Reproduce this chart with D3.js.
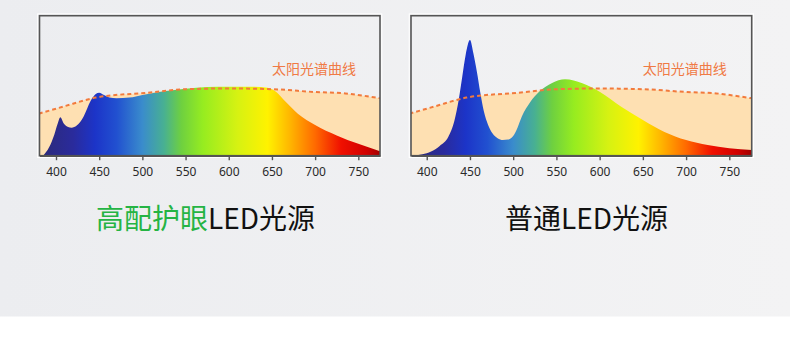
<!DOCTYPE html>
<html>
<head>
<meta charset="utf-8">
<script src="https://cdn.jsdelivr.net/npm/d3@7/dist/d3.min.js"></script>
<style>
  html, body { margin: 0; padding: 0; background: #fff; }
  svg { display: block; }
</style>
</head>
<body>
<div id="chart"></div>
<script>
// tick labels on the wavelength axis (nm)
const ticks = [400, 450, 500, 550, 600, 650, 700, 750];

// sunlight reference curve (relative intensity)
const sunNm  = [380, 408, 446, 506, 550, 600, 650, 700, 735, 760, 776];
const sunVal = [30, 35, 41.5, 45, 47.5, 48, 47.5, 45.5, 44.5, 42.5, 41];

// high-quality eye-care LED spectrum
const hqNm  = [385, 392, 398, 402, 405, 409, 414, 418, 424, 432, 440, 446, 450, 455, 462, 470, 485, 500, 525, 550, 575, 600, 625, 645, 655, 665, 680, 700, 725, 750, 776];
const hqVal = [0, 6, 15, 23, 27.4, 23, 20.5, 20, 21.5, 28, 39, 44, 45, 43.5, 41.5, 41, 41.5, 43.4, 46, 47.8, 49, 49.3, 49.3, 48.5, 45.5, 39, 30, 22, 14.5, 8.5, 3];

// ordinary LED spectrum
const stdNm  = [382, 395, 405, 415, 425, 432, 437, 441, 445, 450, 454, 458, 462, 466, 471, 476, 482, 488, 494, 500, 505, 510, 520, 530, 545, 560, 580, 600, 625, 650, 675, 700, 725, 750, 776];
const stdVal = [0, 1, 3, 7, 13.6, 25, 40, 56, 72, 82.6, 73, 60, 45, 32, 22, 16, 12.5, 11.2, 11.5, 14, 20, 28, 38.6, 45.7, 52, 54.6, 51.7, 45.7, 35, 25.5, 17, 11.2, 7.6, 5.3, 4];

// spectrum colour stops (nm -> colour)
const specNm  = [380, 420, 445, 470, 500, 525, 545, 570, 610, 645, 670, 700, 730, 760, 776];
const specCol = ["#2c2a76", "#2a2b9c", "#1c34c8", "#2150d0", "#3a8ccc", "#48b092", "#6ed040", "#96ec20", "#d6f212", "#fff200", "#ffb800", "#ff6a00", "#f01000", "#d00000", "#a00000"];

const sunLabel = "太阳光谱曲线";

const W = 790, H = 349;

const svg = d3.select("#chart").append("svg")
  .attr("width", W)
  .attr("height", H);

// page backdrop
const bg = svg.append("defs").append("linearGradient")
  .attr("id", "bg").attr("x1", 0).attr("x2", 1).attr("y1", 0).attr("y2", 0);
bg.append("stop").attr("offset", 0).attr("stop-color", "#ecedf0");
bg.append("stop").attr("offset", 1).attr("stop-color", "#f3f3f4");
svg.append("rect").attr("width", W).attr("height", 316.5).attr("fill", "url(#bg)");

const y = d3.scaleLinear().domain([0, 100]).range([155.7, 15.7]);

function drawPanel(id, left, right, domain, ledNm, ledVal) {
  const x = d3.scaleLinear().domain(domain).range([left, right]);
  const g = svg.append("g");

  // horizontal spectrum gradient, positioned by wavelength
  const grad = svg.select("defs").append("linearGradient")
    .attr("id", "spec" + id)
    .attr("gradientUnits", "userSpaceOnUse")
    .attr("x1", x(specNm[0])).attr("x2", x(specNm[specNm.length - 1]))
    .attr("y1", 0).attr("y2", 0);
  grad.selectAll("stop")
    .data(specNm)
    .enter().append("stop")
      .attr("offset", d => (d - specNm[0]) / (specNm[specNm.length - 1] - specNm[0]))
      .attr("stop-color", (d, i) => specCol[i]);

  const clipId = "clip" + id;
  svg.select("defs").append("clipPath").attr("id", clipId)
    .append("rect")
      .attr("x", left).attr("y", y(100))
      .attr("width", right - left).attr("height", y(0) - y(100));

  const plot = g.append("g").attr("clip-path", "url(#" + clipId + ")");

  const sun = sunNm.map((d, i) => [d, sunVal[i]]);
  const led = ledNm.map((d, i) => [d, ledVal[i]]);

  const area = d3.area()
    .x(d => x(d[0]))
    .y0(y(0))
    .y1(d => y(d[1]))
    .curve(d3.curveMonotoneX);

  plot.append("path")
    .datum(sun)
    .attr("d", area)
    .attr("fill", "#fee0b2");

  plot.append("path")
    .datum(led)
    .attr("d", area)
    .attr("fill", "url(#spec" + id + ")");

  plot.append("path")
    .datum(sun)
    .attr("d", d3.line().x(d => x(d[0])).y(d => y(d[1])).curve(d3.curveMonotoneX))
    .attr("fill", "none")
    .attr("stroke", "#f27a3c")
    .attr("stroke-width", 2)
    .attr("stroke-dasharray", "4,3");

  // frame with a thin white outline
  g.append("rect")
    .attr("x", left - 1.8).attr("y", y(100) - 1.8)
    .attr("width", right - left + 3.6).attr("height", y(0) - y(100) + 3.6)
    .attr("fill", "none").attr("stroke", "#ffffff").attr("stroke-width", 1);
  g.append("rect")
    .attr("x", left).attr("y", y(100))
    .attr("width", right - left).attr("height", y(0) - y(100))
    .attr("fill", "none").attr("stroke", "#555555").attr("stroke-width", 1.6);

  // x axis
  const axis = g.append("g")
    .attr("transform", "translate(0," + y(0) + ")")
    .call(d3.axisBottom(x).tickValues(ticks).tickSize(4.5).tickSizeOuter(0).tickPadding(7));
  axis.select(".domain").attr("stroke", "#555").attr("stroke-width", 1.6);
  axis.selectAll(".tick line").attr("stroke", "#555").attr("stroke-width", 1.4);
  axis.selectAll(".tick text")
    .attr("fill", "#2a2a2a")
    .style("font-family", "'Noto Sans', sans-serif")
    .style("font-size", "12px");

  g.append("text")
    .attr("x", x(650))
    .attr("y", 74)
    .attr("fill", "#f07a45")
    .style("font-family", "'Noto Sans CJK SC', sans-serif")
    .style("font-size", "14px")
    .text(sunLabel);
}

drawPanel("a", 39.5, 380, [380.9, 775.1], hqNm, hqVal);
drawPanel("b", 411, 751.7, [381.8, 775.9], stdNm, stdVal);

// captions under each panel
const t1 = svg.append("text")
  .attr("x", 96).attr("y", 229)
  .style("font-family", "'Noto Sans CJK SC', sans-serif")
  .style("font-size", "28px");
t1.append("tspan").attr("fill", "#25b444").text("高配护眼");
t1.append("tspan").attr("fill", "#111").text("LED光源");

svg.append("text")
  .attr("x", 505).attr("y", 229)
  .attr("fill", "#111")
  .style("font-family", "'Noto Sans CJK SC', sans-serif")
  .style("font-size", "28px")
  .text("普通LED光源");
</script>
</body>
</html>
